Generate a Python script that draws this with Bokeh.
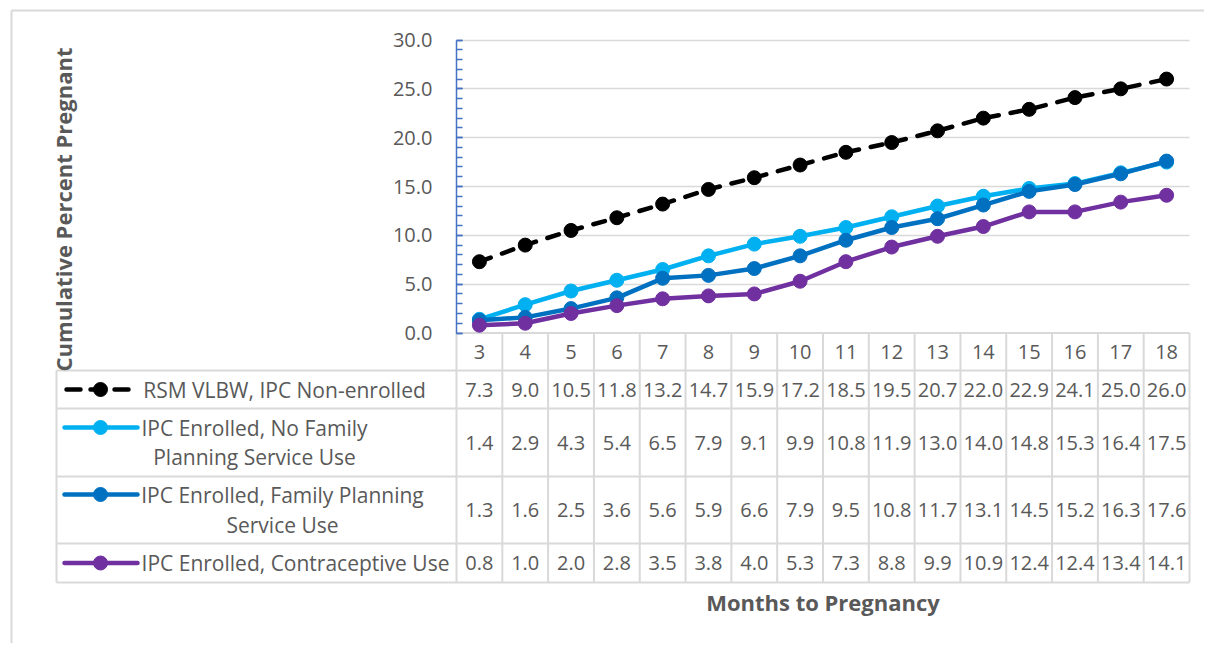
import numpy as np
from bokeh.plotting import figure
from bokeh.models import Range1d, LinearAxis, FixedTicker, NumeralTickFormatter, Grid
from bokeh.core.properties import value
from bokeh.embed import file_html
from bokeh.resources import INLINE

# ---------------- data ----------------
months = [3, 4, 5, 6, 7, 8, 9, 10, 11, 12, 13, 14, 15, 16, 17, 18]
series_labels = [
    "RSM VLBW, IPC Non-enrolled",
    "IPC Enrolled, No Family\nPlanning Service Use",
    "IPC Enrolled, Family Planning\nService Use",
    "IPC Enrolled, Contraceptive Use",
]
rsm_non_enrolled = [7.3, 9.0, 10.5, 11.8, 13.2, 14.7, 15.9, 17.2, 18.5, 19.5, 20.7, 22.0, 22.9, 24.1, 25.0, 26.0]
ipc_no_fp_use = [1.4, 2.9, 4.3, 5.4, 6.5, 7.9, 9.1, 9.9, 10.8, 11.9, 13.0, 14.0, 14.8, 15.3, 16.4, 17.5]
ipc_fp_use = [1.3, 1.6, 2.5, 3.6, 5.6, 5.9, 6.6, 7.9, 9.5, 10.8, 11.7, 13.1, 14.5, 15.2, 16.3, 17.6]
ipc_contraceptive = [0.8, 1.0, 2.0, 2.8, 3.5, 3.8, 4.0, 5.3, 7.3, 8.8, 9.9, 10.9, 12.4, 12.4, 13.4, 14.1]
y_ticks = [0, 5, 10, 15, 20, 25, 30]
y_title = "Cumulative Percent Pregnant"
x_title = "Months to Pregnancy"

series = [rsm_non_enrolled, ipc_no_fp_use, ipc_fp_use, ipc_contraceptive]

# ---------------- styles ----------------
colors = ["#000000", "#00B0F0", "#0070C0", "#7030A0"]
dashes = ["12 12", "solid", "solid", "solid"]
key_dashes = ["14 10", "solid", "solid", "solid"]
TXT = "#595959"
GRID = "#d9d9d9"
AXIS_BLUE = "#4472C4"
FONT_NAME = "Open Sans"
FONT = value(FONT_NAME)

# ---------------- layout helpers (page pixel -> data) ----------------
ORG = 0                    # page position of canvas origin
CW = 733 / 16.0            # column width in px
X0 = 456 + CW / 2          # centre of first column
K = 293 / 30.0             # px per percent
Y0 = 332.5                 # px of value 0


def X(px):
    return months[0] + (px - X0) / CW


def Y(py):
    return (Y0 - py) / K


W, H = 1204, 643
p = figure(width=W, height=H,
           x_range=Range1d(X(ORG), X(ORG + W)), y_range=Range1d(Y(ORG + H), Y(ORG)),
           output_backend="svg", toolbar_location=None,
           x_axis_type=None, y_axis_type=None, min_border=0)
p.outline_line_color = None
p.background_fill_color = "white"
p.border_fill_color = "white"

# outer chart border (top/left)
p.segment(x0=[X(11), X(11)], y0=[Y(10), Y(10)], x1=[X(ORG + W), X(11)], y1=[Y(10), Y(ORG + H)],
          line_color=GRID, line_width=2)

# grid
grid = Grid(dimension=1, ticker=FixedTicker(ticks=y_ticks[1:]),
            grid_line_color=GRID, grid_line_width=1.5)
if "cross_bounds" in Grid.properties():
    grid.cross_bounds = (months[0] - 0.5, months[-1] + 0.5)
    p.add_layout(grid)
else:
    xl, xr = months[0] - 0.5, months[-1] + 0.5
    p.segment(x0=[xl] * 6, x1=[xr] * 6, y0=y_ticks[1:], y1=y_ticks[1:],
              line_color=GRID, line_width=1.5)

# table lines
row_edges_px = [370, 408, 476, 543, 582]
col_edges = [m - 0.5 for m in months] + [months[-1] + 0.5]
xl_tab = X(56)
xr_tab = months[-1] + 0.5
p.segment(x0=[months[0] - 0.5] + [xl_tab] * len(row_edges_px),
          x1=[xr_tab] * (1 + len(row_edges_px)),
          y0=[0] + [Y(v) for v in row_edges_px],
          y1=[0] + [Y(v) for v in row_edges_px],
          line_color=GRID, line_width=2)
p.segment(x0=col_edges, x1=col_edges, y0=[0] * len(col_edges), y1=[Y(582)] * len(col_edges),
          line_color=GRID, line_width=2)
p.segment(x0=[xl_tab], x1=[xl_tab], y0=[Y(370)], y1=[Y(582)], line_color=GRID, line_width=2)

# series lines + markers
for vals, c, d in zip(series, colors, dashes):
    p.line(months, vals, line_color=c, line_width=4.5, line_dash=d,
           line_cap="round", line_join="round")
    p.scatter(months, vals, size=14, fill_color=c, line_color=c)

# data table values
row_centers_px = [389, 442, 509.5, 562.5]
for vals, rc in zip(series, row_centers_px):
    p.text(x=months, y=[Y(rc)] * len(months), text=[f"{v:.1f}" for v in vals],
           text_align="center", text_baseline="middle", text_font=FONT,
           text_font_size="20px", text_color=TXT)

# legend keys in table
key_y_px = [389, 427, 494, 562.5]
key_x_px = [(66, 128), (64, 137), (64, 137), (64, 137)]
for c, d, ky, (ka, kb) in zip(colors, key_dashes, key_y_px, key_x_px):
    p.line([X(ka), X(kb)], [Y(ky), Y(ky)], line_color=c, line_width=4.5, line_dash=d,
           line_cap="round")
    p.scatter([X(100)], [Y(ky)], size=14, fill_color=c, line_color=c)

label_cx_px = [284, 254, 282, 295]
p.text(x=[X(v) for v in label_cx_px], y=[Y(v) for v in row_centers_px], text=series_labels,
       text_align="center", text_baseline="middle", text_font=FONT, text_font_size="21px",
       text_color=TXT, text_line_height=1.07)

# y title
p.text(x=[X(62)], y=[Y(209)], text=[y_title], angle=np.pi / 2,
       text_align="center", text_baseline="middle", text_font=FONT,
       text_font_size="22px", text_font_style="bold", text_color=TXT)

# axes
yaxis = LinearAxis(fixed_location=months[0] - 0.5, bounds=(0, 30),
                   ticker=FixedTicker(ticks=y_ticks, minor_ticks=list(range(0, 31))),
                   formatter=NumeralTickFormatter(format="0.0"),
                   axis_line_color=AXIS_BLUE, axis_line_width=1.5,
                   major_tick_in=6, major_tick_out=0, minor_tick_in=6, minor_tick_out=0,
                   major_tick_line_color=AXIS_BLUE, minor_tick_line_color=AXIS_BLUE,
                   major_tick_line_width=1.5, minor_tick_line_width=1.5,
                   major_label_standoff=24, major_label_text_font=FONT_NAME,
                   major_label_text_font_size="20px", major_label_text_color=TXT)
p.add_layout(yaxis, "left")

xaxis = LinearAxis(fixed_location=0, bounds=(months[0] - 0.5, months[-1] + 0.5),
                   ticker=FixedTicker(ticks=months, minor_ticks=[]),
                   axis_line_color=None, major_tick_line_color=None, minor_tick_line_color=None,
                   major_tick_in=0, major_tick_out=0,
                   major_label_standoff=12, major_label_text_font=FONT_NAME,
                   major_label_text_font_size="20px", major_label_text_color=TXT,
                   axis_label=x_title, axis_label_standoff=224,
                   axis_label_text_font=FONT_NAME, axis_label_text_font_size="22px",
                   axis_label_text_font_style="bold", axis_label_text_color=TXT)
p.add_layout(xaxis, "below")

open("out.html", "w").write(file_html(p, INLINE))
